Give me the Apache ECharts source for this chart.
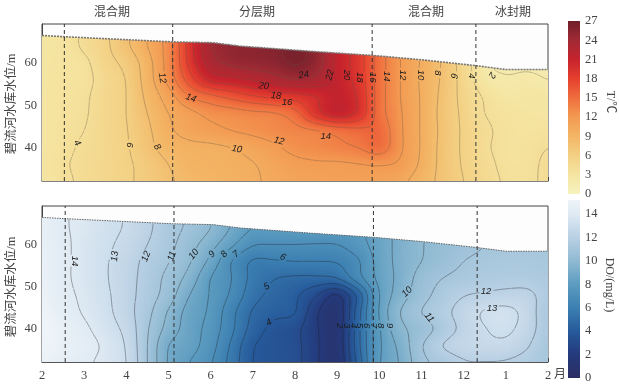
<!DOCTYPE html>
<html><head><meta charset="utf-8">
<style>html,body{margin:0;padding:0;background:#fff}#c{width:619px;height:387px}</style>
<script src="https://cdn.jsdelivr.net/npm/echarts@6/dist/echarts.min.js"></script>
</head><body><div id="c"></div>
<script>
// ---- data ----
const monthKnots = [2,2.5,3,3.5,4,4.5,5,5.5,6,6.5,7,7.5,8,8.5,9,9.5,10,10.5,11,11.5,12,12.5,13,13.5,14];
const levelKnots = [32,36,40,44,48,52,56,60,64,68];
const monthLabels = ['2','3','4','5','6','7','8','9','10','11','12','1','2'];
const periods = ['混合期','分层期','混合期','冰封期'];
const surfaceMonths = [2,2.55,5.1,6.05,6.7,8.35,9.85,11,12.3,13,14];
const surfaceLevels = [66.4,66.1,64.9,64.7,63.9,62.7,61.7,60.7,59.3,58.4,58.4];
const dividersT = [2.53,5.1,9.83,12.29];
const dividersDO = [2.55,5.13,9.86,12.32];

const temp32 = [3,3.6,4.4,5,5.7,6.6,7.7,8.6,9,9.4,9.8,10.3,10.8,11,11.2,11.2,11,10.4,9,7.4,6,4.8,3.8,3.6,4.4];
const temp36 = [3,3.8,4.4,5,5.7,6.7,8,9,9.3,9.6,9.9,10.7,11.4,11.7,11.7,11.9,12.1,11.6,9.6,7.4,5.8,4.6,3.6,3.6,4.3];
const temp40 = [3,3.6,4.3,5,5.8,7.4,8.8,9.4,9.6,10,10.7,11.6,12.6,13,13.5,14,15,12.3,9.8,7.4,5.7,4.3,3.5,3.5,4];
const temp44 = [3,3.5,4,5,5.9,7.6,9.6,10.8,11.4,12,12.5,13,13.4,13.9,14.8,15.4,15.4,12.3,9.8,7.5,5.7,4.4,3.5,3.3,3.5];
const temp48 = [3,3.4,3.8,5,6,8,10,11.4,12.6,13,13.5,13.8,15.2,19,21,19.5,15,12.2,9.8,7.4,5.6,4,3.4,3.1,3];
const temp52 = [3,3.4,3.7,5,6,8.5,11,14,15.4,16.6,17.7,18.5,19,20,21.3,19.7,15,12,9.8,7.5,5.4,3.8,2.8,2.9,3];
const temp56 = [3,3.3,3.5,4.8,6.1,9,12.6,17,20.5,21.2,22.1,23,23.8,23.3,21.4,19.2,15,12,9.7,7.7,5.2,2.8,2.2,2.4,2];
const temp60 = [3,3.2,3.6,5.3,6.6,9.2,13,18.6,23,24.4,24.8,25.2,26.2,25,21.4,19,15,12,9.8,7.8,5,2.3,1.6,1.6,1.6];
const temp64 = [3,3.2,4.3,5.6,7.6,10,13,19,23.8,25,25.4,25.7,26.4,25.2,21.6,19,15,12,9.8,7.8,5,2,1.5,1.5,1.5];
const temp68 = [3,3.2,4.3,5.6,7.6,10,13,19,23.8,25,25.4,25.7,26.4,25.2,21.6,19,15,12,9.8,7.8,5,2,1.5,1.5,1.5];

const do32 = [15,14.6,14.2,13.7,13,11,8.9,8,7.1,5.6,4,3.6,3.3,2.2,1.2,4.4,7.9,9.1,10.7,11.3,11.9,11.95,11.9,11.6,11.2];
const do36 = [15.2,14.8,14.4,13.8,12.9,11,9,8.4,7.4,5.8,4.1,3.6,3.3,2.2,1.3,4.7,7.8,9.3,10.9,12,12.5,12.7,12.7,12.1,11.2];
const do40 = [15.3,14.8,14.2,13.5,12.7,11.1,9.6,8.5,7.6,6.2,4.6,3.7,3.3,2.15,1.3,4.7,7.9,9.7,10.5,11.4,12.3,12.95,13.2,12.5,11.4];
const do44 = [15.2,14.5,13.9,13.3,12.4,11.3,9.9,8.6,7.8,6.3,4.9,4.3,4.05,2.2,1.3,4.6,8.1,10,11,11.7,12.4,13.1,13.3,12.6,11.3];
const do48 = [15,14.3,13.8,13.2,12.4,11.5,10.5,9,7.9,6.8,5.4,4.7,4.2,3.1,1.9,4.4,8,9.5,10.6,11.4,11.95,12.15,12.3,12.25,11.6];
const do52 = [14.9,14.2,13.7,13.1,12.4,11.6,10.7,9.6,8,7,5.7,5.05,4.85,4.8,5,6.6,8.3,9.3,10.4,11,11.3,11.5,11.6,11.6,11.4];
const do56 = [14.9,14.2,13.7,13.1,12.5,11.7,11.05,10.1,8.7,7,5.9,5.9,6,6,6.1,6.9,8.4,9.3,10,10.5,11,11.2,11.3,11.3,11.2];
const do60 = [14.8,14.2,13.7,13.2,12.7,12,11.3,10.4,9.4,8.2,7.1,7,7,6.95,7,7.6,8.5,9.3,9.95,10.3,10.7,11,11.1,11.1,11.1];
const do64 = [14.7,14.1,13.8,13.3,12.9,12.2,11.4,10.8,10,8.9,8,8,8,8,7.9,7.9,8.5,9.3,9.95,10.3,10.7,11,11,11,11];
const do68 = [14.7,14.1,13.8,13.3,12.9,12.2,11.4,10.8,10,8.9,8,8,8,8,7.9,7.9,8.5,9.3,9.95,10.3,10.7,11,11,11,11];

const tempLevels = [2,4,6,8,10,12,14,16,18,20,22,24,26];
const doLevels = [2,3,4,5,6,7,8,9,10,11,12,13,14];
// [month, level, text, rotation in degrees]
const tempLabels = [[2.83,41.15,'4',-60],[4.09,40.7,'6',-90],[4.73,40.2,'8',-60],[4.85,56.4,'12',-80],[5.53,51.7,'14',-20],
 [6.62,39.7,'10',-10],[7.62,41.6,'12',-15],[7.26,54.5,'20',-5],[7.55,52.2,'18',-5],[7.81,50.8,'16',0],[8.21,57.1,'24',10],
 [8.83,57.1,'22',75],[9.23,57.1,'20',-90],[9.54,56.6,'18',-90],[9.83,56.6,'16',-90],[10.18,56.8,'14',-90],[10.56,57.1,'12',-90],
 [10.99,57.1,'10',-90],[11.39,57.6,'8',-90],[11.77,56.9,'6',-100],[12.2,56.9,'4',-90],[12.67,57.1,'2',-120],[8.73,42.8,'14',0]];
const doLabels = [[2.78,56.1,'14',-90],[3.73,57.2,'13',85],[4.47,57.2,'12',70],[5.08,57.2,'11',70],[5.6,57.7,'10',50],[6.03,57.7,'9',45],
 [6.32,57.7,'8',50],[6.6,57.7,'7',40],[7.71,57,'6',-25],[7.33,50,'5',30],[7.38,41.5,'4',30],[9.07,40.8,'2',-90],[9.23,40.8,'3',-90],
 [9.39,40.8,'4',-90],[9.54,40.8,'5',-90],[9.7,40.8,'6',-90],[9.86,40.8,'7',-90],[10.02,40.8,'8',-90],[10.25,40.8,'9',-90],
 [10.66,48.8,'10',45],[11.18,42.7,'11',-50],[12.53,48.8,'12',0],[12.67,45,'13',0]];
const tempStops = [[0,'#f6f3bf'],[3,'#f5e5a2'],[6,'#f3d083'],[9,'#f3b565'],[12,'#f39a52'],[15,'#ef6e3e'],[18,'#e6402f'],[21,'#c6232d'],[24,'#a12a34'],[27,'#6f1f2a']];
const doStops = [[0,'#2c2e63'],[2,'#243a7c'],[4,'#265a9b'],[6,'#3c80b2'],[8,'#5c9cc0'],[10,'#8fbad2'],[12,'#b9d0e4'],[14,'#dfeaf3'],[15.2,'#eef4f9']];
const tempTicks = [0,3,6,9,12,15,18,21,24,27];
const doTicks = [0,2,4,6,8,10,12,14];

// ---- helpers ----
const tempRows = [temp32,temp36,temp40,temp44,temp48,temp52,temp56,temp60,temp64,temp68];
const doRows = [do32,do36,do40,do44,do48,do52,do56,do60,do64,do68];
const SERIF = '"Liberation Serif","Noto Sans CJK SC",serif';
const LEVEL_MIN = 32.2, LEVEL_MAX = 69.1, BOX_T = {left:42,top:24,width:506,height:157}, BOX_D = {left:42,top:206,width:506,height:156};
const PXM = 42.17, PXL = 4.26, DM = 1/24, DL = 0.4;

function surface(m){
  for(let i=1;i<surfaceMonths.length;i++){
    if(m<=surfaceMonths[i]){const a=surfaceMonths[i-1],b=surfaceMonths[i];return surfaceLevels[i-1]+(surfaceLevels[i]-surfaceLevels[i-1])*(m-a)/(b-a);}
  }
  return surfaceLevels[surfaceLevels.length-1];
}
function cr(p0,p1,p2,p3,t){return 0.5*(2*p1+(p2-p0)*t+(2*p0-5*p1+4*p2-p3)*t*t+(3*p1-p0-3*p2+p3)*t*t*t);}
// display surface: cubic resampling of the read knots, lightly smoothed
function sampler(rows){
  const nr=rows.length,nc=rows[0].length,cl=(v,a,b)=>Math.max(a,Math.min(b,v));
  const raw=(m,l)=>{
    const fx=(m-monthKnots[0])/0.5,fy=(l-levelKnots[0])/4;
    const ix=cl(Math.floor(fx),0,nc-2),iy=cl(Math.floor(fy),0,nr-2),tx=fx-ix,ty=fy-iy,col=[];
    for(let j=-1;j<=2;j++){
      const r=rows[cl(iy+j,0,nr-1)];
      col.push(cr(r[cl(ix-1,0,nc-1)],r[ix],r[ix+1],r[cl(ix+2,0,nc-1)],tx));
    }
    return cr(col[0],col[1],col[2],col[3],ty);
  };
  const W=Math.round(12/DM)+1,H=Math.round(36/DL)+1;
  let L=[];
  for(let j=0;j<H;j++){const r=new Float64Array(W);for(let i=0;i<W;i++)r[i]=raw(2+i*DM,32+j*DL);L.push(r);}
  for(let p=0;p<4;p++){
    L=L.map(r=>{const o=new Float64Array(W);for(let i=0;i<W;i++)o[i]=(r[Math.max(i-1,0)]+2*r[i]+r[Math.min(i+1,W-1)])/4;return o;});
  }
  for(let p=0;p<2;p++){
    const o=[];
    for(let j=0;j<H;j++){const a=L[Math.max(j-1,0)],b=L[j],c=L[Math.min(j+1,H-1)],x=new Float64Array(W);for(let i=0;i<W;i++)x[i]=(a[i]+2*b[i]+c[i])/4;o.push(x);}
    L=o;
  }
  return function(m,l){
    const fx=cl((m-2)/DM,0,W-1.001),fy=cl((l-32)/DL,0,H-1.001),i=Math.floor(fx),j=Math.floor(fy),tx=fx-i,ty=fy-j;
    return (L[j][i]*(1-tx)+L[j][i+1]*tx)*(1-ty)+(L[j+1][i]*(1-tx)+L[j+1][i+1]*tx)*ty;
  };
}
function colorOf(stops,v){
  const hex=c=>[parseInt(c.slice(1,3),16),parseInt(c.slice(3,5),16),parseInt(c.slice(5,7),16)];
  if(v<=stops[0][0])return stops[0][1];
  for(let i=1;i<stops.length;i++){
    if(v<=stops[i][0]){
      const t=(v-stops[i-1][0])/(stops[i][0]-stops[i-1][0]),a=hex(stops[i-1][1]),b=hex(stops[i][1]);
      return 'rgb('+a.map((x,k)=>Math.round(x+(b[k]-x)*t)).join(',')+')';
    }
  }
  return stops[stops.length-1][1];
}
function contours(f,levels,labels){
  const out=[],dm=DM,dl=DL;
  const gapped=(m,l,lv)=>labels.some(q=>+q[2]===lv&&Math.hypot((m-q[0])*PXM,(l-q[1])*PXL)<(q[2].length>1?7:5));
  for(const lv of levels){
    for(let i=0;i<288;i++){
      const m=2+i*dm;
      for(let j=0;j<90;j++){
        const l=32+j*dl;
        const c=[[m,l],[m+dm,l],[m+dm,l+dl],[m,l+dl]],v=c.map(p=>f(p[0],p[1])),pts=[];
        for(let k=0;k<4;k++){
          const a=v[k],b=v[(k+1)%4];
          if((a<lv)!==(b<lv)){
            const t=(lv-a)/(b-a),p=c[k],q=c[(k+1)%4];
            pts.push([p[0]+(q[0]-p[0])*t,p[1]+(q[1]-p[1])*t]);
          }
        }
        for(let k=0;k+1<pts.length;k+=2){
          const A=pts[k],B=pts[k+1];
          if(A[1]>surface(A[0])||B[1]>surface(B[0]))continue;
          if(gapped((A[0]+B[0])/2,(A[1]+B[1])/2,lv))continue;
          out.push(A,B,[NaN,NaN]);
        }
      }
    }
  }
  return out;
}
const columnMonths=[];for(let i=0;i<=288;i++)columnMonths.push(2+i/24);

function fieldSeries(ax,f,stops){
  return {type:'custom',xAxisIndex:ax,yAxisIndex:ax,clip:true,silent:true,z:1,animation:false,
    data:columnMonths.map(m=>[m,surface(m)]),encode:{x:0,y:1},
    renderItem(p,api){
      const m=api.value(0),top=surface(m),hw=1/48;
      const a=api.coord([m-hw,LEVEL_MIN]),b=api.coord([m+hw,top]),gs=[];
      const n=Math.ceil((top-LEVEL_MIN)/0.4);
      for(let i=0;i<=n;i++){const l=top-(top-LEVEL_MIN)*i/n;gs.push({offset:i/n,color:colorOf(stops,f(m,l))});}
      const x0=Math.floor(a[0]),x1=Math.ceil(b[0]);
      return {type:'rect',shape:{x:x0,y:b[1],width:x1-x0,height:a[1]-b[1]},
        style:{fill:new echarts.graphic.LinearGradient(0,0,0,1,gs),stroke:null}};
    }};
}
function lineSeries(ax,data,style,z){
  return {type:'line',xAxisIndex:ax,yAxisIndex:ax,data,showSymbol:false,symbol:'none',silent:true,animation:false,z,connectNulls:false,lineStyle:style};
}
function labelSeries(ax,labels){
  return {type:'custom',xAxisIndex:ax,yAxisIndex:ax,silent:true,z:6,animation:false,clip:false,
    data:labels.map(q=>[q[0],q[1]]),encode:{x:0,y:1},
    renderItem(p,api){
      const q=labels[p.dataIndex],c=api.coord([q[0],q[1]]);
      return {type:'text',x:c[0],y:c[1],rotation:q[3]*Math.PI/180,
        style:{text:q[2],textAlign:'center',textVerticalAlign:'middle',font:'italic 9.5px "Liberation Sans",sans-serif',fill:'#1c1c1c'}};
    }};
}
function barSeries(ax,stops,maxV){
  return {type:'custom',xAxisIndex:ax,yAxisIndex:ax,silent:true,animation:false,clip:false,
    data:[[0,0]],encode:{x:0,y:1},
    renderItem(p,api){
      const a=api.coord([0,0]),b=api.coord([1,maxV]);
      return {type:'rect',shape:{x:a[0],y:b[1],width:b[0]-a[0],height:a[1]-b[1]},
        style:{fill:new echarts.graphic.LinearGradient(0,1,0,0,stops.map(s=>({offset:s[0]/maxV,color:s[1]})))}};
    }};
}
const lbl={fontFamily:SERIF,fontSize:12.5,color:'#444'};
function xAx(i,show){
  return {gridIndex:i,type:'value',min:2,max:14,interval:1,splitLine:{show:false},
    axisLine:{show:true,onZero:false,lineStyle:{color:show?'#555':'#777',width:show?1:1.6}},
    axisTick:{show:true,inside:true,length:4,lineStyle:{color:'#444',width:1}},
    axisLabel:{show:show,margin:7,...lbl,formatter:v=>monthLabels[v-2]}};
}
function yAx(i){
  return {gridIndex:i,type:'value',min:LEVEL_MIN,max:LEVEL_MAX,splitLine:{show:false},
    axisLine:{show:true,onZero:false,lineStyle:{color:'#444',width:1}},
    axisTick:{show:true,inside:true,length:4,customValues:[40,50,60],lineStyle:{color:'#444'}},
    axisLabel:{show:true,margin:5,...lbl,customValues:[40,50,60]}};
}
function barX(i){return {gridIndex:i,type:'value',min:0,max:1,show:false};}
function barY(i,max,ticks){
  return {gridIndex:i,type:'value',min:0,max,position:'right',splitLine:{show:false},axisLine:{show:false},
    axisTick:{show:false,customValues:ticks},axisLabel:{show:true,margin:5,...lbl,customValues:ticks}};
}
const fT=sampler(tempRows),fD=sampler(doRows);
const surfaceData=surfaceMonths.map((m,i)=>[m,surfaceLevels[i]]);
const series=[
  fieldSeries(0,fT,tempStops),
  fieldSeries(1,fD,doStops),
  lineSeries(0,contours(fT,tempLevels,tempLabels),{width:0.7,color:'rgba(100,85,70,0.5)'},3),
  lineSeries(1,contours(fD,doLevels,doLabels),{width:0.7,color:'rgba(35,35,40,0.55)'},3),
  lineSeries(0,surfaceData,{width:1.6,color:'#777',type:[2,1]},4),
  lineSeries(1,surfaceData,{width:1,color:'#666',type:[1.5,1]},4),
  ...dividersT.map(m=>lineSeries(0,[[m,LEVEL_MIN],[m,LEVEL_MAX]],{width:1,color:'#333',type:[4,3]},5)),
  ...dividersDO.map(m=>lineSeries(1,[[m,LEVEL_MIN],[m,LEVEL_MAX]],{width:1,color:'#333',type:[4,3]},5)),
  labelSeries(0,tempLabels),
  labelSeries(1,doLabels),
  barSeries(2,tempStops,27),
  barSeries(3,doStops,15.2)
];
const txt=(text,x,y,rot,size)=>({type:'text',x,y,rotation:(rot||0)*Math.PI/180,z:20,
  style:{text,font:(size||12)+'px '+SERIF,fill:'#444',textAlign:'center',textVerticalAlign:'middle'}});
const chart=echarts.init(document.getElementById('c'),null,{renderer:'canvas'});
chart.setOption({
  animation:false,backgroundColor:'#fff',
  grid:[
    {...BOX_T,show:true,backgroundColor:'#fdfdfd',borderColor:'#444',borderWidth:1,containLabel:false},
    {...BOX_D,show:true,backgroundColor:'#fdfdfd',borderColor:'#444',borderWidth:1,containLabel:false},
    {left:568,width:12,top:21,height:173},
    {left:568,width:12,top:200,height:178}
  ],
  xAxis:[xAx(0,false),xAx(1,true),barX(2),barX(3)],
  yAxis:[yAx(0),yAx(1),barY(2,27,tempTicks),barY(3,15.2,doTicks)],
  series,
  graphic:[
    txt(periods[0],112,13,0,12),txt(periods[1],257,13,0,12),txt(periods[2],426,13,0,12),txt(periods[3],513,13,0,12),
    txt('碧流河水库水位/m',12,104,90,12.5),txt('碧流河水库水位/m',12,287,90,12.5),
    txt('月',560,375,0,12),
    txt('T/℃',610,102,-90,12),txt('DO/(mg/L)',609,285,-90,12)
  ]
});
</script></body></html>
